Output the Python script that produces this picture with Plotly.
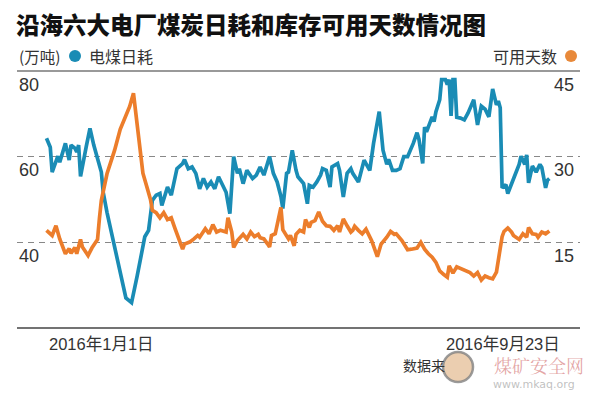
import pandas as pd
import plotly.graph_objects as go

title = "沿海六大电厂煤炭日耗和库存可用天数情况图"
unit_label = "(万吨)"
name_coal = "电煤日耗"
name_days = "可用天数"
start_label = "2016年1月1日"
end_label = "2016年9月23日"
source_label = "数据来"
left_ticks = [80, 60, 40]
right_ticks = [45, 30, 15]

base_date = "2016-01-01"

# 电煤日耗 (万吨): day offsets from 2016-01-01 and values
coal_days = [0, 2, 3, 6, 7, 10, 12, 13, 15, 16,
             17, 18, 21, 23, 25, 28, 29, 30, 32, 42,
             45, 48, 51, 52, 54, 55, 56, 58, 60, 61,
             64, 66, 69, 72, 73, 75, 77, 79, 81, 83,
             85, 87, 89, 91, 93, 95, 97, 99, 101, 102,
             104, 106, 109, 111, 113, 115, 118, 120, 122, 124,
             125, 127, 128, 130, 132, 133, 136, 138, 139, 141,
             143, 145, 146, 148, 150, 151, 154, 155, 157, 159,
             161, 162, 165, 168, 169, 171, 173, 176, 178, 180,
             181, 183, 185, 187, 189, 191, 194, 196, 197, 199,
             200, 201, 204, 205, 206, 208, 209, 211, 212, 213,
             214, 215, 216, 217, 219, 221, 223, 226, 228, 230,
             232, 234, 236, 238, 239, 240, 241, 243, 244, 247,
             250, 251, 253, 254, 255, 257, 259, 261, 262, 264,
             265, 266]
coal_vals = [64.3, 62.2, 56.4, 60.1, 58.7, 63.1, 59.2, 62.7, 62.0, 61.1,
             62.7, 55.4, 62.3, 66.6, 62.7, 58.0, 56.4, 51.7, 47.0, 27.0,
             25.9, 32.2, 38.5, 41.3, 42.8, 46.7, 49.8, 51.0, 51.4, 48.6,
             52.9, 51.0, 57.2, 58.4, 59.3, 57.2, 57.6, 56.1, 52.5, 54.9,
             52.9, 54.1, 52.5, 55.3, 53.7, 51.7, 46.7, 60.0, 56.1, 57.2,
             53.7, 56.8, 54.9, 55.7, 57.6, 55.7, 60.0, 56.1, 54.1, 50.7,
             47.9, 56.1, 56.4, 61.5, 56.8, 55.3, 53.7, 49.0, 53.3, 52.9,
             54.1, 55.7, 57.2, 56.8, 52.9, 57.6, 58.4, 56.8, 50.6, 56.1,
             57.2, 56.1, 54.1, 59.2, 58.4, 56.8, 63.1, 70.5, 61.5, 58.2,
             59.4, 56.8, 56.8, 57.2, 60.0, 60.0, 63.1, 65.6, 64.1, 58.4,
             66.9, 65.8, 69.3, 68.2, 70.5, 73.3, 78.0, 78.0, 76.8, 78.0,
             69.5, 78.0, 78.0, 69.2, 69.0, 68.6, 70.2, 73.3, 67.4, 71.8,
             71.1, 69.3, 75.8, 72.1, 73.0, 71.4, 52.7, 53.5, 51.4, 54.7,
             58.2, 60.1, 58.2, 60.4, 53.9, 57.8, 56.4, 58.2, 57.5, 52.7,
             54.5, 54.9]

# 可用天数: day offsets from 2016-01-01 and values
stock_days = [0, 3, 5, 7, 10, 12, 13, 15, 16, 18,
              19, 22, 24, 27, 28, 29, 32, 36, 39, 42,
              44, 46, 48, 50, 51, 53, 55, 56, 58, 60,
              62, 64, 66, 68, 72, 73, 76, 78, 80, 81,
              84, 86, 88, 90, 92, 95, 96, 98, 99, 101,
              104, 106, 108, 110, 112, 113, 115, 117, 118, 119,
              121, 124, 125, 128, 129, 131, 132, 134, 136, 137,
              139, 140, 142, 144, 146, 148, 150, 152, 154, 155,
              157, 159, 161, 162, 163, 165, 167, 169, 172, 175,
              177, 180, 182, 184, 185, 188, 191, 193, 196, 198,
              200, 202, 204, 206, 208, 210, 212, 213, 215, 217,
              219, 221, 224, 226, 228, 230, 232, 234, 236, 238,
              239, 241, 242, 244, 246, 247, 250, 252, 254, 255,
              257, 259, 260, 262, 264, 266]
stock_vals = [17.1, 16.2, 17.9, 15.6, 13.0, 13.9, 13.1, 14.1, 13.0, 15.5,
              14.2, 12.7, 14.0, 15.5, 19.2, 22.3, 27.0, 31.1, 34.8, 37.3,
              38.8, 41.1, 35.0, 30.1, 27.1, 24.8, 22.5, 20.6, 20.2, 19.3,
              20.2, 19.0, 19.3, 17.4, 13.8, 14.7, 15.1, 15.6, 16.2, 15.9,
              17.4, 16.5, 18.1, 16.8, 17.1, 16.8, 19.3, 16.8, 14.1, 15.3,
              16.4, 15.6, 16.8, 16.0, 16.4, 15.8, 15.6, 14.7, 14.2, 16.2,
              16.5, 21.1, 17.2, 15.6, 16.2, 14.4, 16.4, 17.1, 16.8, 19.0,
              17.6, 18.5, 18.8, 20.3, 18.7, 17.9, 17.8, 17.1, 17.9, 16.8,
              19.1, 17.9, 16.8, 17.1, 17.8, 17.1, 16.5, 17.3, 15.3, 12.5,
              14.7, 15.9, 16.9, 16.4, 16.5, 15.3, 13.7, 13.8, 14.0, 15.0,
              13.8, 13.0, 12.4, 11.5, 10.0, 9.4, 8.9, 10.9, 9.6, 10.7,
              10.4, 10.0, 9.7, 9.1, 9.7, 8.4, 9.1, 8.8, 8.6, 9.8,
              12.0, 16.0, 16.9, 17.5, 16.8, 16.2, 15.5, 16.5, 15.9, 17.6,
              16.5, 16.4, 15.9, 16.8, 16.5, 17.0]

BLUE = "#1a8cb5"
ORANGE = "#ec7d2b"
CJK = "Noto Sans CJK SC"
NUM = "Liberation Sans, Noto Sans CJK SC"

base = pd.Timestamp(base_date)
coal_x = base + pd.to_timedelta(coal_days, unit="D")
stock_x = base + pd.to_timedelta(stock_days, unit="D")
x_lo = (base - pd.Timedelta(hours=15.6 * 24)).strftime("%Y-%m-%d %H:%M")
x_hi = (base + pd.Timedelta(hours=282.2 * 24)).strftime("%Y-%m-%d %H:%M")
end_date = base + pd.Timedelta(days=max(coal_days))

fig = go.Figure()
fig.add_trace(go.Scatter(x=coal_x, y=coal_vals, mode="lines", name=name_coal,
                         line=dict(color=BLUE, width=3.7), yaxis="y"))
fig.add_trace(go.Scatter(x=stock_x, y=stock_vals, mode="lines", name=name_days,
                         line=dict(color=ORANGE, width=3.7), yaxis="y2"))

annotations = []
for v in left_ticks:
    annotations.append(dict(x=0, xref="paper", y=v, yref="y", text=str(v),
                            xanchor="left", yanchor="middle", yshift=-13.5,
                            showarrow=False, font=dict(family=NUM, size=18, color="#333")))
for v in right_ticks:
    annotations.append(dict(x=1, xref="paper", y=v, yref="y2", text=str(v),
                            xanchor="right", yanchor="middle", yshift=-13.5, xshift=-4,
                            showarrow=False, font=dict(family=NUM, size=18, color="#333")))
# header row
annotations += [
    dict(x=0, xref="paper", y=1, yref="paper", text=unit_label, xanchor="left",
         yanchor="middle", yshift=14.7, showarrow=False,
         font=dict(family=CJK, size=15.5, color="#333")),
    dict(x=0, xref="paper", y=1, yref="paper", text=name_coal, xanchor="left",
         yanchor="middle", yshift=14.7, xshift=70, showarrow=False,
         font=dict(family=CJK, size=16, color="#333")),
    dict(x=1, xref="paper", y=1, yref="paper", text=name_days, xanchor="right",
         yanchor="middle", yshift=14.7, xshift=-21, showarrow=False,
         font=dict(family=CJK, size=16, color="#333")),
    dict(x=base, xref="x", y=0, yref="paper", text=start_label, xanchor="left",
         yanchor="middle", yshift=-16, xshift=1, showarrow=False,
         font=dict(family=NUM, size=16.5, color="#333")),
    dict(x=end_date, xref="x", y=0, yref="paper", text=end_label, xanchor="right",
         yanchor="middle", yshift=-16, xshift=13, showarrow=False,
         font=dict(family=NUM, size=16.5, color="#333")),
    dict(x=0, xref="paper", y=0, yref="paper", text=source_label, xanchor="left",
         yanchor="middle", yshift=-37, xshift=384, showarrow=False,
         font=dict(family=CJK, size=14, color="#333")),
    dict(x=1, xref="paper", y=0, yref="paper", text="煤矿安全网", xanchor="right",
         yanchor="middle", yshift=-37, xshift=6, showarrow=False,
         font=dict(family="Noto Serif CJK SC, " + CJK, size=18, color="rgba(205,90,90,0.55)")),
    dict(x=1, xref="paper", y=0, yref="paper", text="www.mkaq.org", xanchor="right",
         yanchor="middle", yshift=-56, xshift=-3, showarrow=False,
         font=dict(family="DejaVu Sans", size=11, color="rgba(150,150,150,0.6)")),
]

shapes = [
    dict(type="line", xref="paper", yref="paper", x0=0, x1=1, y0=1, y1=1,
         line=dict(color="#777", width=1.5)),
    dict(type="line", xref="paper", yref="paper", x0=0, x1=1, y0=0, y1=0,
         line=dict(color="#444", width=1.5)),
    dict(type="circle", xref="paper", yref="paper", xsizemode="pixel", ysizemode="pixel",
         xanchor=0, yanchor=1, x0=52, x1=64, y0=9, y1=21,
         fillcolor=BLUE, line=dict(width=0)),
    dict(type="circle", xref="paper", yref="paper", xsizemode="pixel", ysizemode="pixel",
         xanchor=1, yanchor=1, x0=-15, x1=-3, y0=9, y1=21,
         fillcolor="#e8893a", line=dict(width=0)),
    # watermark logo
    dict(type="circle", xref="paper", yref="paper",
         x0=(443 - 17) / 563, x1=(473 - 17) / 563,
         y0=(328 - 382) / 257, y1=(328 - 352) / 257,
         fillcolor="rgba(228,190,150,0.75)", line=dict(color="rgba(130,130,130,0.8)", width=2.5)),
]

fig.update_layout(
    width=600, height=394,
    margin=dict(l=17, r=20, t=71, b=66),
    paper_bgcolor="white", plot_bgcolor="white",
    showlegend=False,
    title=dict(text=title, xref="container", yref="container",
               x=16 / 600, xanchor="left", y=1 - 26 / 394, yanchor="middle",
               font=dict(family=CJK, size=23.5, color="#111", weight=900)),
    xaxis=dict(type="date", range=[x_lo, x_hi], showgrid=False, zeroline=False,
               showticklabels=False, showline=False, ticks=""),
    yaxis=dict(range=[20, 80], tickvals=[40, 60], showticklabels=False,
               showgrid=True, gridcolor="#888", gridwidth=1, griddash="6px,5px",
               zeroline=False, showline=False, ticks=""),
    yaxis2=dict(range=[0, 45], overlaying="y", side="right", showgrid=False,
                showticklabels=False, zeroline=False, showline=False, ticks=""),
    annotations=annotations,
    shapes=shapes,
)

fig.write_html("out.html",
               config={"displayModeBar": False},
               post_script="document.body.style.margin='0'; document.body.style.padding='0';")
